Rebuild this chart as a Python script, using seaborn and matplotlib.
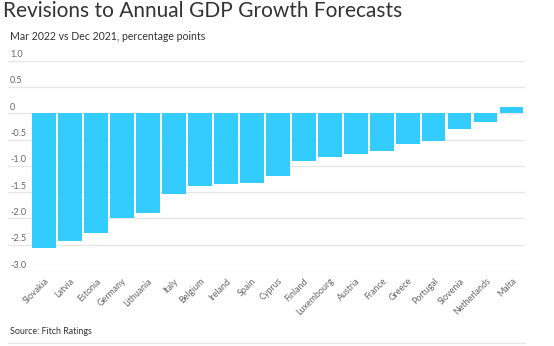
import matplotlib
matplotlib.use("Agg")
import matplotlib.pyplot as plt
import seaborn as sns
import pandas as pd
from matplotlib.lines import Line2D
from matplotlib.transforms import offset_copy

countries = ["Slovakia", "Latvia", "Estonia", "Germany", "Lithuania", "Italy",
             "Belgium", "Ireland", "Spain", "Cyprus", "Finland", "Luxembourg",
             "Austria", "France", "Greece", "Portugal", "Slovenia", "Netherlands",
             "Malta"]
revisions = [-2.57, -2.43, -2.28, -1.99, -1.90, -1.53, -1.39, -1.35, -1.33,
             -1.19, -0.91, -0.83, -0.77, -0.71, -0.58, -0.52, -0.30, -0.17, 0.11]
ytick_values = [1.0, 0.5, 0.0, -0.5, -1.0, -1.5, -2.0, -2.5, -3.0]
ytick_labels = ["1.0", "0.5", "0", "-0.5", "-1.0", "-1.5", "-2.0", "-2.5", "-3.0"]

title = "Revisions to Annual GDP Growth Forecasts"
subtitle = "Mar 2022 vs Dec 2021, percentage points"
source = "Source: Fitch Ratings"

sns.set_theme(style="white")
plt.rcParams["font.family"] = ["Lato", "DejaVu Sans"]

W, H = 554, 346
fig = plt.figure(figsize=(W / 100, H / 100), dpi=100)
fig.patch.set_facecolor("white")

left, right = 8 / W, 525 / W
bottom, top = (H - 271) / H, (H - 60.7) / H
ax = fig.add_axes([left, bottom, right - left, top - bottom])

df = pd.DataFrame({"country": countries, "value": revisions})
sns.barplot(data=df, x="country", y="value", color="#33CCFF", saturation=1,
            width=0.9, ax=ax, edgecolor="none", linewidth=0, zorder=3)

ax.set_xlim(-1.386, 18.51)
ax.set_ylim(-3.0, 1.0)
ax.set_yticks(ytick_values)
ax.yaxis.grid(True, color="#e6e6e6", linewidth=1, zorder=0)
ax.set_axisbelow(True)
ax.tick_params(axis="y", left=False, labelleft=False)
ax.tick_params(axis="x", bottom=False, length=0, pad=4)
for s in ax.spines.values():
    s.set_visible(False)
ax.set_xlabel("")
ax.set_ylabel("")

for lbl in ax.get_xticklabels():
    lbl.set_rotation(45)
    lbl.set_ha("right")
    lbl.set_va("top")
    lbl.set_rotation_mode("anchor")
    lbl.set_fontsize(6.4)
    lbl.set_color("#666666")

trans = offset_copy(ax.get_yaxis_transform(), fig=fig, x=0, y=1.5, units="dots")
for v, t in zip(ytick_values, ytick_labels):
    ax.text(2 / (525 - 8), v, t, transform=trans,
            ha="left", va="bottom", fontsize=6.6, color="#666666")

fig.text(3 / W, 1 - 11 / H, title, fontsize=15, color="#333333",
         ha="left", va="center")
fig.text(10 / W, 1 - 37 / H, subtitle, fontsize=7.6, color="#333333",
         ha="left", va="center")
fig.text(10 / W, 1 - 331 / H, source, fontsize=6.4, color="#333333",
         ha="left", va="center")
fig.add_artist(Line2D([8 / W, 525 / W], [1 - 343 / H, 1 - 343 / H],
                      transform=fig.transFigure, color="#e6e6e6", linewidth=1))

fig.savefig("out.png", dpi=100, facecolor="white")
